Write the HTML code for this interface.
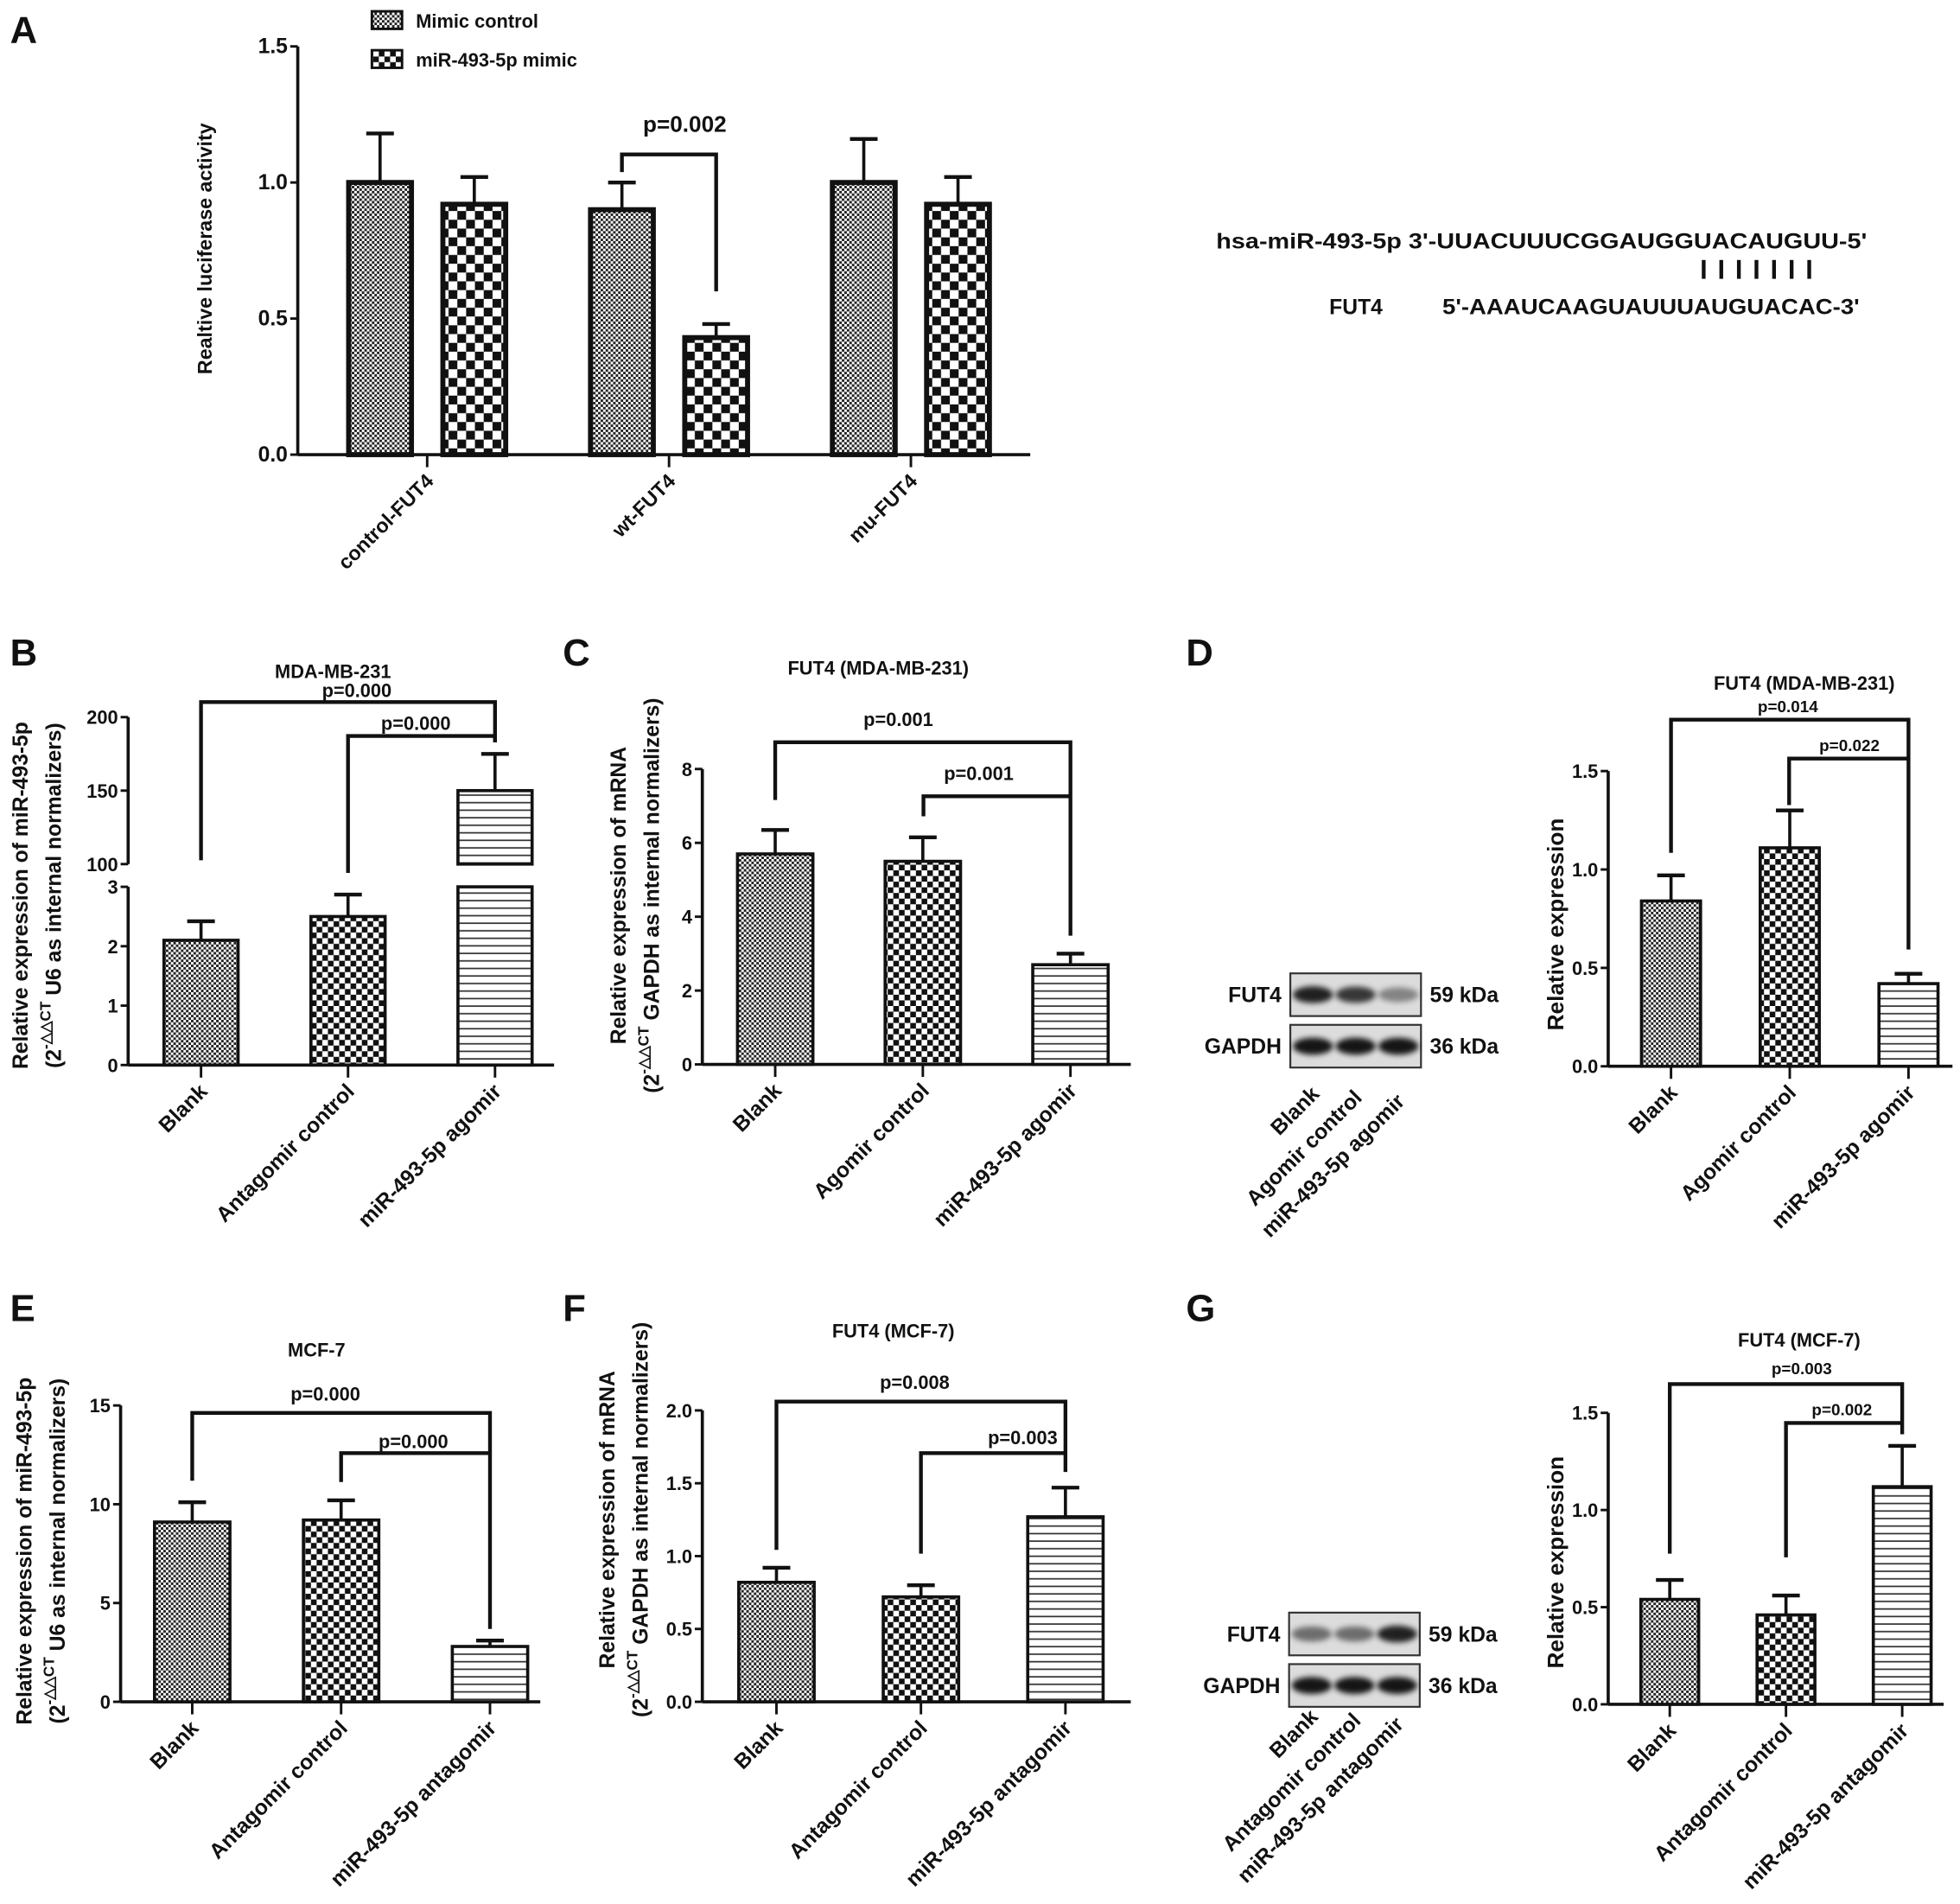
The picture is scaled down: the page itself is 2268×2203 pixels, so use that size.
<!DOCTYPE html>
<html><head><meta charset="utf-8"><style>
html,body{margin:0;padding:0;background:#fff;}
svg{display:block;}
text{font-family:"Liberation Sans",sans-serif;font-weight:bold;fill:#111;}
</style></head><body>
<svg id="fig" xmlns="http://www.w3.org/2000/svg" width="2268" height="2203" viewBox="0 0 1560 1516" preserveAspectRatio="none">
<defs>
<pattern id="pFine" width="4" height="4" patternUnits="userSpaceOnUse"><rect width="4" height="4" fill="#fff"/><rect width="2" height="2" fill="#222"/><rect x="2" y="2" width="2" height="2" fill="#222"/></pattern>
<pattern id="pCheckA" width="14" height="14" patternUnits="userSpaceOnUse"><rect width="14" height="14" fill="#fff"/><rect width="7" height="7" fill="#111"/><rect x="7" y="7" width="7" height="7" fill="#111"/></pattern>
<pattern id="pCheck" width="9" height="9" patternUnits="userSpaceOnUse"><rect width="9" height="9" fill="#fff"/><rect width="4.5" height="4.5" fill="#111"/><rect x="4.5" y="4.5" width="4.5" height="4.5" fill="#111"/></pattern>
<pattern id="pLines" width="6" height="6" patternUnits="userSpaceOnUse"><rect width="6" height="6" fill="#fff"/><rect y="2.5" width="6" height="1.2" fill="#333"/></pattern>
<filter id="blur" x="-30%" y="-60%" width="160%" height="220%"><feGaussianBlur stdDeviation="2.2"/></filter>
</defs>
<g id="static">
<text x="8" y="34" font-size="30">A</text>
<text x="8" y="530" font-size="30">B</text>
<text x="448" y="530" font-size="30">C</text>
<text x="944" y="530" font-size="30">D</text>
<text x="8" y="1052" font-size="30">E</text>
<text x="448" y="1052" font-size="30">F</text>
<text x="944" y="1052" font-size="30">G</text>
<g>
<rect x="296" y="9" width="24" height="14" fill="url(#pFine)" stroke="#111" stroke-width="2"/>
<text x="331" y="22" font-size="15">Mimic control</text>
<rect x="296" y="40" width="24" height="14" fill="url(#pCheck)" stroke="#111" stroke-width="2"/>
<text x="331" y="53" font-size="15">miR-493-5p mimic</text>
</g>
<g>
<text x="968" y="198" font-size="17" textLength="518" lengthAdjust="spacingAndGlyphs">hsa-miR-493-5p 3'-UUACUUUCGGAUGGUACAUGUU-5'</text>
<g stroke="#111" stroke-width="3">
<line x1="1356" y1="207" x2="1356" y2="222"/><line x1="1370" y1="207" x2="1370" y2="222"/><line x1="1384" y1="207" x2="1384" y2="222"/><line x1="1398" y1="207" x2="1398" y2="222"/><line x1="1412" y1="207" x2="1412" y2="222"/><line x1="1426" y1="207" x2="1426" y2="222"/><line x1="1440" y1="207" x2="1440" y2="222"/>
</g>
<text x="1058" y="250" font-size="17">FUT4</text>
<text x="1148" y="250" font-size="17" textLength="332" lengthAdjust="spacingAndGlyphs">5'-AAAUCAAGUAUUUAUGUACAC-3'</text>
</g>
</g>
<g id="charts"></g>
</svg>
<script>
// ---- data ----
const catsA = ['control-FUT4','wt-FUT4','mu-FUT4'];
const mimicCtrlA = [1.0, 0.90, 1.0];
const mimicCtrlErrA = [1.18, 1.0, 1.16];
const mimicA = [0.92, 0.43, 0.92];
const mimicErrA = [1.02, 0.48, 1.02];
const ticksA = [0, 0.5, 1.0, 1.5];

const catsB = ['Blank','Antagomir control','miR-493-5p agomir'];
const valsB = [2.1, 2.5, 150];
const errsB = [2.42, 2.87, 175];
const ticksB = [0, 1, 2, 3, 100, 150, 200];
const pB = ['p=0.000','p=0.000'];

const catsC = ['Blank','Agomir control','miR-493-5p agomir'];
const valsC = [5.7, 5.5, 2.7];
const errsC = [6.35, 6.15, 3.0];
const ticksC = [0, 2, 4, 6, 8];
const pC = ['p=0.001','p=0.001'];

const catsD = ['Blank','Agomir control','miR-493-5p agomir'];
const valsD = [0.84, 1.11, 0.42];
const errsD = [0.97, 1.30, 0.47];
const ticksD = [0, 0.5, 1.0, 1.5];
const pD = ['p=0.014','p=0.022'];
const blotFutD = [0.85, 0.75, 0.4];
const blotGapdhD = [0.9, 0.9, 0.9];

const catsE = ['Blank','Antagomir control','miR-493-5p antagomir'];
const valsE = [9.1, 9.2, 2.8];
const errsE = [10.1, 10.2, 3.1];
const ticksE = [0, 5, 10, 15];
const pE = ['p=0.000','p=0.000'];

const catsF = ['Blank','Antagomir control','miR-493-5p antagomir'];
const valsF = [0.82, 0.72, 1.27];
const errsF = [0.92, 0.80, 1.47];
const ticksF = [0, 0.5, 1.0, 1.5, 2.0];
const pF = ['p=0.008','p=0.003'];

const catsG = ['Blank','Antagomir control','miR-493-5p antagomir'];
const valsG = [0.54, 0.46, 1.12];
const errsG = [0.64, 0.56, 1.33];
const ticksG = [0, 0.5, 1.0, 1.5];
const pG = ['p=0.003','p=0.002'];
const blotFutG = [0.5, 0.5, 0.85];
const blotGapdhG = [0.9, 0.9, 0.9];

const NS = 'http://www.w3.org/2000/svg';
const root = document.getElementById('charts');
function mk(tag, attrs, parent) {
  const e = document.createElementNS(NS, tag);
  for (const k in attrs) e.setAttribute(k, attrs[k]);
  (parent || root).appendChild(e);
  return e;
}
function fmt(v, dec) { return dec ? v.toFixed(1) : String(v); }

function axes(g, p) {
  const ax = mk('line', {x1: p.ax, y1: p.base, x2: p.axEnd, y2: p.base, stroke: '#111', 'stroke-width': 2.5}, g);
  
  
  p.segments.forEach(s => {
    const yl = mk('line', {x1: p.ax, y1: p.y(s[0]), x2: p.ax, y2: p.y(s[1]), stroke: '#111', 'stroke-width': 2.5}, g);
    
    
  });
  p.ticks.forEach(t => {
    const yy = p.y(t);
    const tl = mk('line', {x1: p.ax - 6, y1: yy, x2: p.ax, y2: yy, stroke: '#111', 'stroke-width': 2}, g);
    
    
    const tx = mk('text', {x: p.ax - 8, y: yy + 5.5, 'font-size': p.tickFs || 15, 'text-anchor': 'end'}, g);
    tx.textContent = fmt(t, p.dec);
    
    
  });
  p.cats.forEach((c, i) => {
    const xc = p.c0 + i * p.step;
    const tk = mk('line', {x1: xc, y1: p.base, x2: xc, y2: p.base + 10, stroke: '#111', 'stroke-width': 2}, g);
    
    
    const lx = xc + 6, ly = p.base + 22;
    const lt = mk('text', {x: lx, y: ly, 'font-size': p.labFs || 17, 'text-anchor': 'end', transform: `rotate(-45 ${lx} ${ly})`}, g);
    lt.textContent = c;
    
    
  });
}

function bar(g, xc, w, v, e, p, fill, name) {
  const x = xc - w / 2;
  const errL = mk('line', {x1: xc, y1: p.y(v), x2: xc, y2: p.y(e), stroke: '#111', 'stroke-width': 2.5}, g);
  
  
  const cap = mk('line', {x1: xc - 11, y1: p.y(e), x2: xc + 11, y2: p.y(e), stroke: '#111', 'stroke-width': 3}, g);
  
  
  if (p.broken && v > p.broken[1]) {
    const r1 = mk('rect', {x: x, y: p.y(p.broken[0]), width: w, height: p.base - p.y(p.broken[0]), fill: fill, stroke: '#111', 'stroke-width': 2.5}, g);
    
    
    const r2 = mk('rect', {x: x, y: p.y(v), width: w, height: p.y(p.broken[1]) - p.y(v), fill: fill, stroke: '#111', 'stroke-width': 2.5}, g);
    
    
  } else {
    const r = mk('rect', {x: x, y: p.y(v), width: w, height: p.base - p.y(v), fill: fill, stroke: '#111', 'stroke-width': p.bw || 2.5}, g);
    
    
  }
}

function bracket(g, x1, x2, y, d1, d2, label, tx, ty, fs) {
  const pl = mk('polyline', {points: `${x1},${d1} ${x1},${y} ${x2},${y} ${x2},${d2}`, fill: 'none', stroke: '#111', 'stroke-width': 3}, g);
  
  
  const t = mk('text', {x: tx, y: ty, 'font-size': fs, 'text-anchor': 'middle'}, g);
  t.textContent = label;
  
  
}

function ytitle(g, x, y, main, sub, fs) {
  const t = mk('text', {x: 0, y: 0, 'font-size': fs, 'text-anchor': 'middle', 'dominant-baseline': 'central', transform: `translate(${x} ${y}) rotate(-90)`}, g);
  t.textContent = main;
  
  
  if (sub) {
    const t2 = mk('text', {x: 0, y: 0, 'font-size': fs, 'text-anchor': 'middle', 'dominant-baseline': 'central', transform: `translate(${x + 26} ${y}) rotate(-90)`}, g);
    
    
    const a = document.createElementNS(NS, 'tspan'); a.textContent = '(2'; t2.appendChild(a);
    const b = document.createElementNS(NS, 'tspan'); b.textContent = '-\u25B3\u25B3CT'; b.setAttribute('font-size', fs * 0.7); b.setAttribute('dy', -7); t2.appendChild(b);
    const c = document.createElementNS(NS, 'tspan'); c.textContent = ' ' + sub + ')'; c.setAttribute('dy', 7); t2.appendChild(c);
  }
}

function title(g, x, y, s, fs) {
  const t = mk('text', {x: x, y: y, 'font-size': fs, 'text-anchor': 'middle'}, g);
  t.textContent = s;
  
  
}

function simplePanel(name, p, vals, errs, fills) {
  const g = mk('g', {});
  
  
  axes(g, p);
  vals.forEach((v, i) => bar(g, p.c0 + i * p.step, p.barW, v, errs[i], p, fills[i], 'bar-' + p.cats[i].toLowerCase().replace(/[^a-z0-9]+/g, '-')));
  return g;
}

function blot(g, x0, y0, futVals, gapVals, laneLabels, lblY) {
  const lanes = [x0 + 18, x0 + 52, x0 + 86];
  [[y0, futVals, 'FUT4', '59 kDa'], [y0 + 41, gapVals, 'GAPDH', '36 kDa']].forEach(row => {
    const bx = mk('rect', {x: x0, y: row[0], width: 104, height: 34, fill: '#dcdcdc', stroke: '#333', 'stroke-width': 1.5}, g);
    
    
    row[1].forEach((s, i) => {
      const b = mk('ellipse', {cx: lanes[i], cy: row[0] + 17, rx: 16, ry: 5 + 2 * s, fill: '#000', opacity: s, filter: 'url(#blur)'}, g);
      
      
    });
    const l = mk('text', {x: x0 - 7, y: row[0] + 23, 'font-size': 17, 'text-anchor': 'end'}, g);
    l.textContent = row[2];
    
    
    const k = mk('text', {x: x0 + 111, y: row[0] + 23, 'font-size': 17}, g);
    k.textContent = row[3];
    
    
  });
  laneLabels.forEach((s, i) => {
    const lx = lanes[i] + 6, ly = lblY + i * 3;
    const t = mk('text', {x: lx, y: ly, 'font-size': 17, 'text-anchor': 'end', transform: `rotate(-45 ${lx} ${ly})`}, g);
    t.textContent = s;
    
    
  });
}

// ---- Panel A ----
(function () {
  const p = {ax: 237, axEnd: 820, base: 362, y: v => 362 - v * 216.7, segments: [[0, 1.5]], ticks: ticksA, dec: true,
    cats: catsA, c0: 340, step: 192.5, tickFs: 17, labFs: 16};
  const g = mk('g', {});
  
  
  axes(g, p);
  catsA.forEach((c, i) => {
    const xc = p.c0 + i * p.step;
    p.bw = 4;
    bar(g, xc - 37.5, 50, mimicCtrlA[i], mimicCtrlErrA[i], p, 'url(#pFine)', 'bar-mimic-control-' + i);
    bar(g, xc + 37.5, 50, mimicA[i], mimicErrA[i], p, 'url(#pCheckA)', 'bar-mir-mimic-' + i);
  });
  bracket(g, p.c0 + p.step - 37.5, p.c0 + p.step + 37.5, 123, 137, 232, 'p=0.002', 545, 105, 18);
  ytitle(g, 163, 198, 'Realtive luciferase activity', null, 16);
})();

// ---- Panel B (broken axis) ----
(function () {
  const yB = v => v <= 3 ? 848 - v * 47.3 : 688 - (v - 100) * 1.17;
  const p = {ax: 102, axEnd: 441, base: 848, y: yB, segments: [[0, 3], [100, 200]], ticks: ticksB, dec: false,
    cats: catsB, c0: 160, step: 117, barW: 59, broken: [3, 100]};
  const g = simplePanel('panel-b-chart', p, valsB, errsB, ['url(#pFine)', 'url(#pCheck)', 'url(#pLines)']);
  title(g, 265, 540, 'MDA-MB-231', 15);
  bracket(g, 160, 394, 559, 685, 591, pB[0], 284, 555, 15);
  bracket(g, 277, 394, 586, 695, 591, pB[1], 331, 581, 15);
  ytitle(g, 17, 713, 'Relative expression of miR-493-5p', 'U6 as internal normalizers', 17);
})();

// ---- Panel C ----
(function () {
  const p = {ax: 559, axEnd: 900, base: 847.5, y: v => 847.5 - v * 29.4, segments: [[0, 8]], ticks: ticksC, dec: false,
    cats: catsC, c0: 617, step: 117.5, barW: 60};
  const g = simplePanel('panel-c-chart', p, valsC, errsC, ['url(#pFine)', 'url(#pCheck)', 'url(#pLines)']);
  title(g, 699, 537, 'FUT4 (MDA-MB-231)', 15);
  bracket(g, 617, 852, 591, 637, 745, pC[0], 715, 578, 15);
  bracket(g, 735, 852, 634, 650, 634, pC[1], 779, 621, 15);
  ytitle(g, 493, 713, 'Relative expression of mRNA', 'GAPDH as internal normalizers', 17);
})();

// ---- Panel D ----
(function () {
  const p = {ax: 1280, axEnd: 1554, base: 849, y: v => 849 - v * 156.7, segments: [[0, 1.5]], ticks: ticksD, dec: true,
    cats: catsD, c0: 1330, step: 94.5, barW: 47, labFs: 17};
  const g = simplePanel('panel-d-chart', p, valsD, errsD, ['url(#pFine)', 'url(#pCheck)', 'url(#pLines)']);
  title(g, 1436, 549, 'FUT4 (MDA-MB-231)', 15);
  bracket(g, 1330, 1519, 573, 679, 756, pD[0], 1423, 567, 13);
  bracket(g, 1424, 1519, 604, 641, 604, pD[1], 1472, 598, 13);
  ytitle(g, 1238, 736, 'Relative expression', null, 18);
  blot(g, 1027, 775, blotFutD, blotGapdhD, catsD, 872);
})();

// ---- Panel E ----
(function () {
  const p = {ax: 96, axEnd: 430, base: 1355, y: v => 1355 - v * 15.73, segments: [[0, 15]], ticks: ticksE, dec: false,
    cats: catsE, c0: 153, step: 118.5, barW: 60};
  const g = simplePanel('panel-e-chart', p, valsE, errsE, ['url(#pFine)', 'url(#pCheck)', 'url(#pLines)']);
  title(g, 252, 1080, 'MCF-7', 15);
  bracket(g, 153, 390, 1125, 1179, 1297, pE[0], 259, 1115, 15);
  bracket(g, 271.5, 390, 1157, 1180, 1157, pE[1], 329, 1153, 15);
  ytitle(g, 20, 1235, 'Relative expression of miR-493-5p', 'U6 as internal normalizers', 17);
})();

// ---- Panel F ----
(function () {
  const p = {ax: 559, axEnd: 900, base: 1355, y: v => 1355 - v * 116, segments: [[0, 2]], ticks: ticksF, dec: true,
    cats: catsF, c0: 618, step: 115, barW: 60};
  const g = simplePanel('panel-f-chart', p, valsF, errsF, ['url(#pFine)', 'url(#pCheck)', 'url(#pLines)']);
  title(g, 711, 1065, 'FUT4 (MCF-7)', 15);
  bracket(g, 618, 848, 1116, 1234, 1172, pF[0], 728, 1106, 15);
  bracket(g, 733, 848, 1157, 1237, 1157, pF[1], 814, 1150, 15);
  ytitle(g, 484, 1210, 'Relative expression of mRNA', 'GAPDH as internal normalizers', 17);
})();

// ---- Panel G ----
(function () {
  const p = {ax: 1280, axEnd: 1547, base: 1357, y: v => 1357 - v * 154.7, segments: [[0, 1.5]], ticks: ticksG, dec: true,
    cats: catsG, c0: 1329, step: 92.5, barW: 46, labFs: 17};
  const g = simplePanel('panel-g-chart', p, valsG, errsG, ['url(#pFine)', 'url(#pCheck)', 'url(#pLines)']);
  title(g, 1432, 1072, 'FUT4 (MCF-7)', 15);
  bracket(g, 1329, 1514, 1102, 1237, 1142, pG[0], 1434, 1094, 13);
  bracket(g, 1421.5, 1514, 1133, 1240, 1133, pG[1], 1466, 1127, 13);
  ytitle(g, 1238, 1244, 'Relative expression', null, 18);
  blot(g, 1026, 1284, blotFutG, blotGapdhG, catsG, 1368);
})();
</script>
</body></html>
